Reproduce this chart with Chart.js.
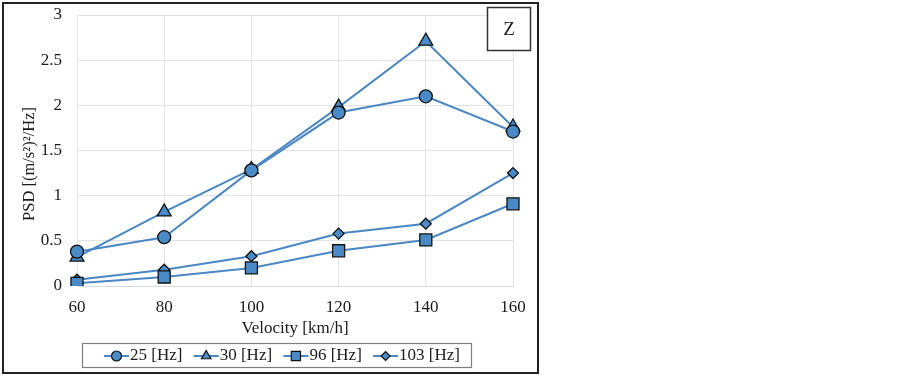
<!DOCTYPE html>
<html>
<head>
<meta charset="utf-8">
<script src="https://cdn.jsdelivr.net/npm/chart.js@4.4.0/dist/chart.umd.min.js"></script>
<style>
  html, body { margin: 0; padding: 0; background: #fff; }
  #frame {
    position: absolute; left: 2px; top: 2px;
    width: 537px; height: 372px;
    border: 2px solid #222; box-sizing: border-box;
  }
  #psdChart { display: block; }
</style>
</head>
<body>
<div id="frame"><canvas id="psdChart" width="533" height="368"></canvas></div>
<script>
const velocities = [60, 80, 100, 120, 140, 160];
const seriesNames = ["25 [Hz]", "30 [Hz]", "96 [Hz]", "103 [Hz]"];
const psd25 = [0.38, 0.54, 1.28, 1.92, 2.10, 1.71];
const psd30 = [0.32, 0.82, 1.29, 1.98, 2.71, 1.76];
const psd96 = [0.03, 0.10, 0.20, 0.39, 0.51, 0.91];
const psd103 = [0.07, 0.18, 0.33, 0.58, 0.69, 1.25];
const panelLabel = "Z";
const yTitle = "PSD [(m/s²)²/Hz]";

const LINE = "#4a87c3";
const FILL = "#4a8ac6";
const FONT = "'Liberation Serif', 'Times New Roman', serif";
const TEXT = "#1a1a1a";

function series(label, data, style, radius) {
    return {
        label,
        data,
        borderColor: LINE,
        borderWidth: 2,
        pointStyle: style,
        pointRadius: radius,
        pointHoverRadius: radius,
        pointBackgroundColor: FILL,
        pointBorderColor: "#111",
        pointBorderWidth: 1.3,
        tension: 0,
        fill: false,
    };
}

// legend box, y title (sits a bit low, like the original) and panel tag
const boxLegend = {
    id: "boxLegend",
    afterDraw(chart) {
        const ctx = chart.ctx;
        ctx.save();

        // y title
        ctx.save();
        ctx.translate(26, 160);
        ctx.rotate(-Math.PI / 2);
        ctx.font = "16.5px " + FONT;
        ctx.fillStyle = TEXT;
        ctx.textAlign = "center";
        ctx.textBaseline = "middle";
        ctx.fillText(yTitle, 0, 0);
        ctx.restore();

        // legend frame
        const lx = 78, ly = 339, lw = 389, lh = 24;
        ctx.strokeStyle = "#7f7f7f";
        ctx.lineWidth = 1.2;
        ctx.strokeRect(lx + 0.5, ly + 0.5, lw, lh);

        ctx.font = "17px " + FONT;
        ctx.textBaseline = "middle";
        ctx.fillStyle = TEXT;
        const cy = ly + lh / 2 + 1;
        const x0 = lx + 22, x1 = lx + lw - 11;
        const items = chart.data.datasets.map(ds => ({ ds, w: 26 + ctx.measureText(ds.label).width }));
        const used = items.reduce((s, it) => s + it.w, 0);
        const gap = (x1 - x0 - used) / (items.length - 1);
        let x = x0;
        items.forEach(({ ds, w }) => {
            ctx.strokeStyle = LINE;
            ctx.lineWidth = 2;
            ctx.beginPath();
            ctx.moveTo(x, cy);
            ctx.lineTo(x + 25, cy);
            ctx.stroke();
            const r = ds.pointStyle === "rectRot" ? 4.5 : ds.pointStyle === "triangle" ? 5.5 : ds.pointStyle === "rect" ? 6.5 : 5;
            ctx.fillStyle = FILL;
            ctx.strokeStyle = "#111";
            ctx.lineWidth = 1.2;
            Chart.helpers.drawPoint(ctx, { pointStyle: ds.pointStyle, radius: r, borderWidth: 1.2 }, x + 12.5, cy);
            ctx.fillStyle = TEXT;
            ctx.fillText(ds.label, x + 26, cy);
            x += w + gap;
        });

        // panel tag
        ctx.fillStyle = "#fff";
        ctx.fillRect(483, 3, 43, 43);
        ctx.strokeStyle = "#333";
        ctx.lineWidth = 1.5;
        ctx.strokeRect(483.5, 3.5, 43, 43);
        ctx.fillStyle = TEXT;
        ctx.font = "19px " + FONT;
        ctx.textAlign = "center";
        ctx.fillText(panelLabel, 505, 26);
        ctx.restore();
    },
};

new Chart(document.getElementById("psdChart").getContext("2d"), {
    type: "line",
    data: {
        labels: velocities,
        datasets: [
            series(seriesNames[0], psd25, "circle", 6.5),
            series(seriesNames[1], psd30, "triangle", 8),
            series(seriesNames[2], psd96, "rect", 8.5),
            series(seriesNames[3], psd103, "rectRot", 5.5),
        ],
    },
    options: {
        responsive: false,
        animation: false,
        layout: { padding: { top: 11, right: 24, left: 0, bottom: 0 } },
        plugins: { legend: { display: false }, tooltip: { enabled: false } },
        scales: {
            x: {
                offset: false,
                grid: { color: "#e3e3e3", drawTicks: false },
                border: { color: "#d9d9d9" },
                ticks: { color: TEXT, font: { family: FONT, size: 17 }, padding: 11, maxRotation: 0 },
                title: { display: true, text: "Velocity [km/h]", color: TEXT, font: { family: FONT, size: 17 }, padding: { top: 0, bottom: 33 } },
                afterFit(scale) { scale.height = 86; },
            },
            y: {
                min: 0,
                max: 3,
                ticks: { stepSize: 0.5, color: TEXT, font: { family: FONT, size: 17 }, padding: 15, callback: v => `${v}` },
                grid: { color: "#e3e3e3", drawTicks: false },
                border: { display: false },
                title: { display: false },
                afterFit(scale) {
                    scale.width = 73;
                    scale.paddingTop = 0;
                    scale.paddingBottom = 0;
                },
            },
        },
    },
    plugins: [boxLegend],
});
</script>
</body>
</html>
